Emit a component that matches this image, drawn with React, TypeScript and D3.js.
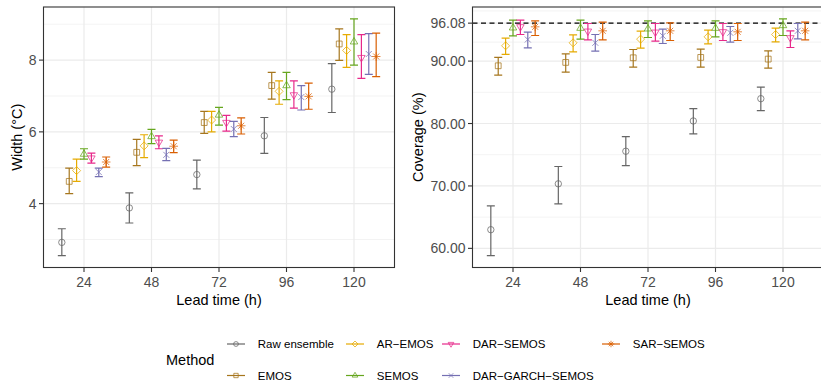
import * as d3 from "d3";
import React, { useRef, useEffect } from "react";

const leadTimes = [24, 48, 72, 96, 120];
const methods = ["Raw ensemble", "EMOS", "AR\u2212EMOS", "SEMOS", "DAR\u2212SEMOS", "DAR\u2212GARCH\u2212SEMOS", "SAR\u2212SEMOS"];
const colors = ["#666666", "#A6761D", "#E6AB02", "#66A61E", "#E7298A", "#7570B3", "#D95F02"];
const shapes = ["circle", "square", "diamond", "triangle", "triangleDown", "cross", "asterisk"];

// rows = methods, columns = lead times
const widthMid = [
  [2.92, 3.88, 4.81, 5.89, 7.19],
  [4.62, 5.43, 6.26, 7.29, 8.45],
  [4.92, 5.61, 6.33, 7.13, 8.27],
  [5.38, 5.87, 6.47, 7.29, 8.51],
  [5.27, 5.71, 6.26, 7.03, 8.07],
  [4.88, 5.36, 6.08, 6.97, 8.17],
  [5.16, 5.60, 6.17, 6.99, 8.10],
];
const widthLo = [
  [2.55, 3.46, 4.41, 5.40, 6.54],
  [4.28, 5.06, 5.96, 6.91, 7.99],
  [4.62, 5.28, 6.00, 6.77, 7.80],
  [5.24, 5.67, 6.19, 6.90, 7.86],
  [5.13, 5.53, 6.02, 6.66, 7.49],
  [4.75, 5.20, 5.87, 6.61, 7.60],
  [5.02, 5.42, 5.94, 6.63, 7.54],
];
const widthHi = [
  [3.30, 4.30, 5.21, 6.40, 7.90],
  [4.99, 5.79, 6.57, 7.66, 8.87],
  [5.24, 5.92, 6.57, 7.42, 8.71],
  [5.53, 6.07, 6.68, 7.66, 9.15],
  [5.41, 5.89, 6.46, 7.42, 8.71],
  [4.99, 5.54, 6.29, 7.29, 8.74],
  [5.30, 5.77, 6.39, 7.36, 8.75],
];

const coverageMid = [
  [62.99, 70.34, 75.56, 80.41, 83.98],
  [89.25, 89.79, 90.53, 90.59, 90.32],
  [92.45, 92.93, 93.52, 93.89, 94.26],
  [95.33, 95.27, 95.17, 95.27, 95.70],
  [95.49, 94.79, 94.63, 94.69, 93.73],
  [93.46, 92.93, 94.05, 94.53, 94.85],
  [95.49, 94.85, 94.85, 94.69, 94.85],
];
const coverageLo = [
  [58.83, 67.14, 73.27, 78.33, 82.06],
  [87.76, 88.24, 89.04, 89.04, 88.88],
  [91.07, 91.49, 92.08, 92.77, 93.09],
  [94.05, 93.52, 93.78, 93.89, 94.10],
  [94.26, 93.41, 93.20, 93.30, 92.18],
  [92.13, 91.60, 92.82, 93.04, 93.57],
  [94.10, 93.41, 93.30, 93.30, 93.41],
];
const coverageHi = [
  [66.82, 73.11, 77.91, 82.38, 85.84],
  [90.59, 91.17, 91.86, 91.92, 91.65],
  [93.68, 94.21, 94.79, 94.95, 95.27],
  [96.55, 96.55, 96.45, 96.45, 96.77],
  [96.55, 96.02, 96.02, 96.02, 94.85],
  [94.63, 94.26, 95.11, 95.54, 96.02],
  [96.45, 96.23, 96.13, 96.02, 96.23],
];

const widthTicks = [4, 6, 8];
const widthMinor = [3, 5, 7, 9];
const coverageTicks = [60, 70, 80, 90, 96.08];
const coverageMinor = [65, 75, 85, 93.04, 98.04];
const nominalCoverage = 96.08;

function shapePath(kind: string, k = 1) {
  const r = 3.2 * k, s = 2.9 * k, d = 4 * k, t = 4.3 * k, c = 3 * k;
  switch (kind) {
    case "circle": return `M${r},0A${r},${r} 0 1,1 ${-r},0A${r},${r} 0 1,1 ${r},0Z`;
    case "square": return `M${-s},${-s}H${s}V${s}H${-s}Z`;
    case "diamond": return `M0,${-d}L${d},0L0,${d}L${-d},0Z`;
    case "triangle": return `M0,${-t}L${t * 0.87},${t * 0.5}L${-t * 0.87},${t * 0.5}Z`;
    case "triangleDown": return `M0,${t}L${t * 0.87},${-t * 0.5}L${-t * 0.87},${-t * 0.5}Z`;
    case "cross": return `M${-c},${-c}L${c},${c}M${-c},${c}L${c},${-c}`;
    default: return `M${-c},${-c}L${c},${c}M${-c},${c}L${c},${-c}M0,${-t}V${t}M${-t},0H${t}`;
  }
}

const App: React.FC = () => {
  const svgRef = useRef<SVGSVGElement>(null);

  useEffect(() => {
    const svg = d3.select(svgRef.current);
    svg.selectAll("*").remove();

    const width = 821;
    const height = 382;
    const top = 7;
    const bottom = 267.5;
    const font = "'Liberation Sans', Arial, sans-serif";

    svg.attr("width", width).attr("height", height).attr("font-family", font);

    const drawPanel = (
      left: number,
      right: number,
      mid: number[][],
      lo: number[][],
      hi: number[][],
      ticks: number[],
      minor: number[],
      fmt: (v: number) => string,
      title: string,
      titleX: number,
      hline: number | null
    ) => {
      const g = svg.append("g");
      const x = d3.scaleLinear().domain([0.4, leadTimes.length + 0.6]).range([left, right]);
      const ymin = d3.min(lo.flat()) as number;
      const ymax = d3.max(hi.flat()) as number;
      const pad = (ymax - ymin) * 0.05;
      const y = d3.scaleLinear().domain([ymin - pad, ymax + pad]).range([bottom, top]);

      const clipId = `clip-${Math.round(left)}`;
      svg.append("clipPath").attr("id", clipId)
        .append("rect").attr("x", left).attr("y", top).attr("width", right - left).attr("height", bottom - top);
      const inner = g.append("g").attr("clip-path", `url(#${clipId})`);

      // grid
      inner.selectAll("line.minor").data(minor).join("line")
        .attr("x1", left).attr("x2", right)
        .attr("y1", d => y(d)).attr("y2", d => y(d))
        .attr("stroke", "#EBEBEB").attr("stroke-width", 0.6);
      inner.selectAll("line.majy").data(ticks).join("line")
        .attr("x1", left).attr("x2", right)
        .attr("y1", d => y(d)).attr("y2", d => y(d))
        .attr("stroke", "#EBEBEB").attr("stroke-width", 1.2);
      inner.selectAll("line.majx").data(leadTimes).join("line")
        .attr("x1", (d, i) => x(i + 1)).attr("x2", (d, i) => x(i + 1))
        .attr("y1", top).attr("y2", bottom)
        .attr("stroke", "#EBEBEB").attr("stroke-width", 1.2);

      if (hline !== null) {
        inner.append("line")
          .attr("x1", left).attr("x2", right)
          .attr("y1", y(hline)).attr("y2", y(hline))
          .attr("stroke", "black").attr("stroke-width", 1.1)
          .attr("stroke-dasharray", "5,3.5");
      }

      const step = 0.1095;
      const cap = 4;
      methods.forEach((m, mi) => {
        const off = (mi - 3) * step;
        const grp = inner.append("g").attr("stroke", colors[mi]).attr("fill", "none");
        leadTimes.forEach((lt, li) => {
          const cx = x(li + 1 + off);
          grp.append("path")
            .attr("d", `M${cx - cap},${y(hi[mi][li])}H${cx + cap}M${cx},${y(hi[mi][li])}V${y(lo[mi][li])}M${cx - cap},${y(lo[mi][li])}H${cx + cap}`)
            .attr("stroke-width", 1.2);
          grp.append("path")
            .attr("transform", `translate(${cx},${y(mid[mi][li])})`)
            .attr("d", shapePath(shapes[mi]))
            .attr("stroke-width", 0.75);
        });
      });

      // border
      g.append("rect")
        .attr("x", left).attr("y", top)
        .attr("width", right - left).attr("height", bottom - top)
        .attr("fill", "none").attr("stroke", "#333333").attr("stroke-width", 1.1);

      // y axis
      const ya = g.append("g");
      ya.selectAll("line").data(ticks).join("line")
        .attr("x1", left - 4.5).attr("x2", left)
        .attr("y1", d => y(d)).attr("y2", d => y(d))
        .attr("stroke", "#333333").attr("stroke-width", 1.1);
      ya.selectAll("text").data(ticks).join("text")
        .attr("x", left - 7).attr("y", d => y(d)).attr("dy", "0.36em")
        .attr("text-anchor", "end").attr("font-size", 14).attr("fill", "#4D4D4D")
        .text(d => fmt(d));

      // x axis
      const xa = g.append("g");
      xa.selectAll("line").data(leadTimes).join("line")
        .attr("x1", (d, i) => x(i + 1)).attr("x2", (d, i) => x(i + 1))
        .attr("y1", bottom).attr("y2", bottom + 4.5)
        .attr("stroke", "#333333").attr("stroke-width", 1.1);
      xa.selectAll("text").data(leadTimes).join("text")
        .attr("x", (d, i) => x(i + 1)).attr("y", bottom + 19)
        .attr("text-anchor", "middle").attr("font-size", 14).attr("fill", "#4D4D4D")
        .text(d => d);

      g.append("text")
        .attr("x", (left + Math.min(right, 394.5 + left - 43.5)) / 2).attr("y", bottom + 37)
        .attr("text-anchor", "middle").attr("font-size", 14.5).attr("fill", "black")
        .text("Lead time (h)");
      g.append("text")
        .attr("transform", `translate(${titleX},${(top + bottom) / 2}) rotate(-90)`)
        .attr("dy", "0.36em")
        .attr("text-anchor", "middle").attr("font-size", 14.5).attr("fill", "black")
        .text(title);
    };

    drawPanel(43.5, 394.5, widthMid, widthLo, widthHi, widthTicks, widthMinor,
      d => String(d), "Width (\u00B0C)", 17, null);
    drawPanel(472.5, 823.5, coverageMid, coverageLo, coverageHi, coverageTicks, coverageMinor,
      d => d.toFixed(2), "Coverage (%)", 418, nominalCoverage);

    // legend
    const lg = svg.append("g");
    lg.append("text")
      .attr("x", 166).attr("y", 360).attr("dy", "0.36em")
      .attr("font-size", 14.5).attr("fill", "black")
      .text("Method");
    const colX = [227, 346, 442, 602];
    const rowY = [344, 375.5];
    methods.forEach((m, mi) => {
      const col = Math.floor(mi / 2);
      const row = mi % 2;
      const kx = colX[col];
      const ky = rowY[row];
      lg.append("line")
        .attr("x1", kx).attr("x2", kx + 18).attr("y1", ky).attr("y2", ky)
        .attr("stroke", colors[mi]).attr("stroke-width", 1.2);
      lg.append("path")
        .attr("transform", `translate(${kx + 9},${ky})`)
        .attr("d", shapePath(shapes[mi], 0.75))
        .attr("fill", "none").attr("stroke", colors[mi]).attr("stroke-width", 0.75);
      lg.append("text")
        .attr("x", kx + 30.8).attr("y", ky).attr("dy", "0.36em")
        .attr("font-size", 11.5).attr("fill", "black")
        .text(m);
    });
  }, []);

  return (
    <div style={{ position: "absolute", left: 0, top: 0 }}>
      <svg ref={svgRef}></svg>
    </div>
  );
};

export default App;
